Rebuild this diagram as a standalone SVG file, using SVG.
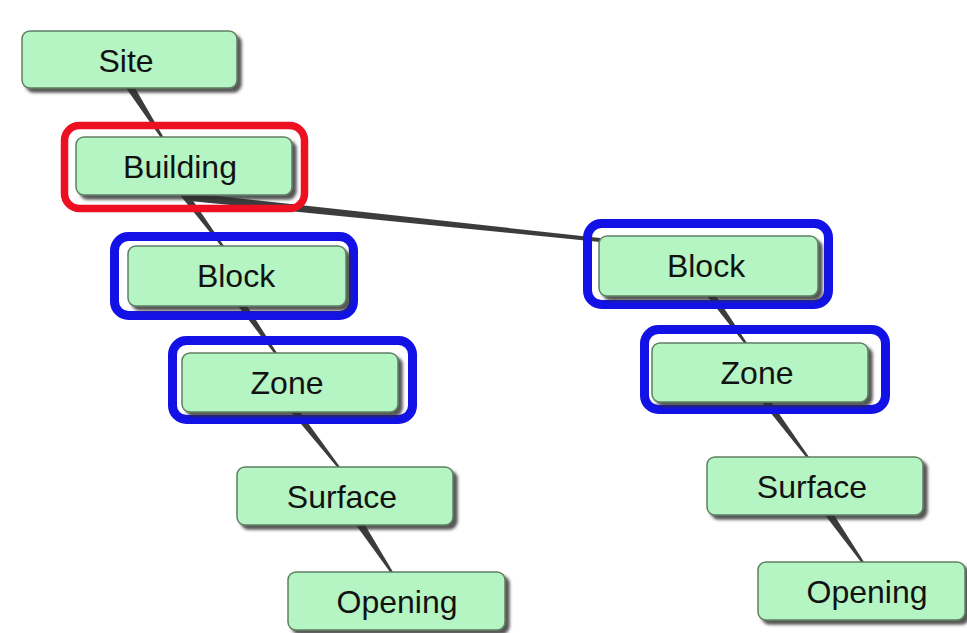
<svg xmlns="http://www.w3.org/2000/svg" width="967" height="633" viewBox="0 0 967 633">
  <style>
    .box { fill: #b5f5c3; stroke: #5f7f63; stroke-width: 1.5; filter: url(#shadow); }
    .label { font-family: "Liberation Sans", Arial, sans-serif; font-size: 32px; fill: #121212; text-anchor: middle; }
    .link { fill: #3c3c3c; }
    .red { fill: none; stroke: #ec1020; stroke-width: 7.5; }
    .blue { fill: none; stroke: #1212e6; stroke-width: 9; }
  </style>
  <defs>
    <filter id="shadow" x="-10%" y="-20%" width="125%" height="150%">
      <feDropShadow dx="4" dy="4" stdDeviation="1.5" flood-color="#2a2a2a" flood-opacity="0.8"/>
    </filter>
  </defs>

  <rect width="967" height="633" fill="#ffffff"/>

  <!-- tapered connectors: wide at the parent, narrowing toward the child -->
  <g id="connectors">
    <polygon class="link" points="126,88 135,88 164,138 161,138"/>
    <polygon class="link" points="180,195 189,195 224,246 221,246"/>
    <polygon class="link" points="190,193 190,201 600,242 600,238"/>
    <polygon class="link" points="238,306 247,306 277,353 274,353"/>
    <polygon class="link" points="291,412 300,412 340,467 337,467"/>
    <polygon class="link" points="356,525 365,525 393,572 390,572"/>
    <polygon class="link" points="707,296 716,296 747,343 744,343"/>
    <polygon class="link" points="762,402 771,402 809,457 806,457"/>
    <polygon class="link" points="825,515 834,515 864,562 861,562"/>
  </g>

  <!-- highlight frames -->
  <g id="highlights">
    <rect class="red" x="64.5" y="125.5" width="240" height="83" rx="15"/>
    <rect class="blue" x="114.5" y="236.5" width="239" height="79" rx="14"/>
    <rect class="blue" x="172.5" y="340.5" width="240" height="79" rx="14"/>
    <rect class="blue" x="587.5" y="223.5" width="241" height="81" rx="14"/>
    <rect class="blue" x="644.5" y="329.5" width="241" height="80" rx="14"/>
  </g>

  <g id="site">
    <rect class="box" x="22" y="31" width="215" height="57" rx="8"/>
    <text class="label" x="126" y="72">Site</text>
  </g>
  <g id="building">
    <rect class="box" x="76" y="137" width="216" height="58" rx="8"/>
    <text class="label" x="180" y="178">Building</text>
  </g>
  <g id="block-left">
    <rect class="box" x="128" y="246" width="218" height="60" rx="8"/>
    <text class="label" x="236" y="287">Block</text>
  </g>
  <g id="zone-left">
    <rect class="box" x="182" y="353" width="216" height="59" rx="8"/>
    <text class="label" x="287" y="394">Zone</text>
  </g>
  <g id="surface-left">
    <rect class="box" x="237" y="467" width="216" height="58" rx="8"/>
    <text class="label" x="342" y="508">Surface</text>
  </g>
  <g id="opening-left">
    <rect class="box" x="288" y="572" width="217" height="58" rx="8"/>
    <text class="label" x="397" y="613">Opening</text>
  </g>
  <g id="block-right">
    <rect class="box" x="599" y="236" width="219" height="60" rx="8"/>
    <text class="label" x="706" y="277">Block</text>
  </g>
  <g id="zone-right">
    <rect class="box" x="652" y="343" width="216" height="59" rx="8"/>
    <text class="label" x="757" y="384">Zone</text>
  </g>
  <g id="surface-right">
    <rect class="box" x="707" y="457" width="216" height="58" rx="8"/>
    <text class="label" x="812" y="498">Surface</text>
  </g>
  <g id="opening-right">
    <rect class="box" x="758" y="562" width="207" height="58" rx="8"/>
    <text class="label" x="867" y="603">Opening</text>
  </g>
</svg>
